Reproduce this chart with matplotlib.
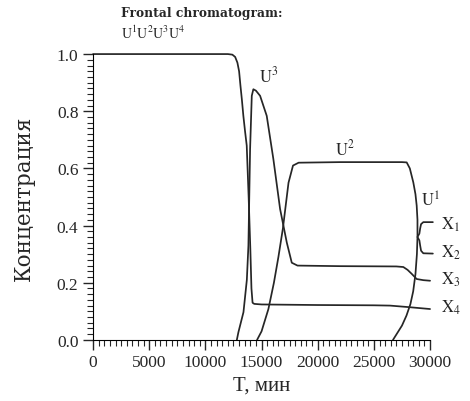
import matplotlib
matplotlib.use("Agg")
from matplotlib import pyplot as plt
from matplotlib.ticker import MultipleLocator, FormatStrFormatter

# values: T (min) and relative concentration
# first component front (starts at 1.0, ends as X4)
u4_t = [0, 12000, 12400, 12650, 12850, 13000, 13120, 13250, 13380, 13530, 13680, 13850, 14000, 14100, 14200, 14350, 15000, 20000, 25000, 26440, 28000, 30000]
u4_c = [1.0, 1.0, 0.998, 0.99, 0.97, 0.94, 0.89, 0.84, 0.784, 0.73, 0.68, 0.50, 0.32, 0.18, 0.13, 0.126, 0.124, 0.122, 0.121, 0.12, 0.115, 0.108]

# U3 band: peak then plateau, ends as X3
u3_t = [12800, 12940, 13390, 13690, 13830, 13980, 14130, 14270, 14500, 14870, 15460, 16050, 16650, 17250, 17690, 18200, 22000, 27000, 27620, 28000, 28370, 28810, 29400, 30000]
u3_c = [0.0, 0.027, 0.097, 0.21, 0.33, 0.668, 0.854, 0.877, 0.872, 0.854, 0.784, 0.633, 0.458, 0.34, 0.27, 0.26, 0.258, 0.257, 0.255, 0.245, 0.231, 0.213, 0.209, 0.207]

# U2 band: rise, plateau, then the closing front down to the U1 start
u2_t = [14600, 15000, 15610, 16100, 16500, 16900, 17400, 17800, 18300, 22000, 27500, 27920, 28200, 28510, 28700, 28810, 28880, 28880, 28830, 28700, 28500, 28250, 27900, 27500, 27100, 26700]
u2_c = [0.0, 0.03, 0.108, 0.2, 0.29, 0.39, 0.55, 0.61, 0.62, 0.622, 0.622, 0.621, 0.6, 0.551, 0.51, 0.47, 0.42, 0.36, 0.3, 0.23, 0.17, 0.125, 0.085, 0.05, 0.025, 0.0]

# brace at the X1 / X2 ends
brace_t = [30250, 29400, 29200, 29120, 29050, 28880, 29050, 29120, 29200, 29400, 30250]
brace_c = [0.412, 0.412, 0.405, 0.39, 0.372, 0.36, 0.348, 0.33, 0.312, 0.303, 0.302]

end_labels = [r"$\mathrm{X}_1$", r"$\mathrm{X}_2$", r"$\mathrm{X}_3$", r"$\mathrm{X}_4$"]
end_levels = [0.405, 0.307, 0.213, 0.115]

plt.rcParams['font.family'] = ['Liberation Serif', 'DejaVu Serif']
plt.rcParams['mathtext.fontset'] = 'stix'

fig = plt.figure(figsize=(4.7, 4.02), dpi=100)
ax = fig.add_axes([0.198, 0.152, 0.717, 0.711])

lc = '#262626'
lw = 1.25
for t, c in [(u4_t, u4_c), (u3_t, u3_c), (u2_t, u2_c), (brace_t, brace_c)]:
    ax.plot(t, c, color=lc, lw=lw, clip_on=False, solid_capstyle='round')

ax.set_xlim(0, 30000)
ax.set_ylim(0, 1.0)

for lab, lev in zip(end_labels, end_levels):
    ax.text(31000, lev, lab, fontsize=12, color=lc, va='center', ha='left', clip_on=False)

ax.text(15600, 0.925, r"$\mathrm{U}^3$", fontsize=12, color=lc, ha='center', va='center')
ax.text(22400, 0.67, r"$\mathrm{U}^2$", fontsize=12, color=lc, ha='center', va='center')
ax.text(30000, 0.49, r"$\mathrm{U}^1$", fontsize=12, color=lc, ha='center', va='center')

fig.text(121 / 470, 1 - 14 / 402, "Frontal chromatogram:", fontsize=8.8, family='DejaVu Serif',
         fontweight='bold', color=lc, ha='left', va='center')
fig.text(121 / 470, 1 - 33 / 402, r"$\mathrm{U^1U^2U^3U^4}$", fontsize=10,
         color=lc, ha='left', va='center')

ax.spines['top'].set_visible(False)
ax.spines['right'].set_visible(False)
ax.xaxis.set_major_locator(MultipleLocator(5000))
ax.xaxis.set_minor_locator(MultipleLocator(500))
ax.yaxis.set_major_locator(MultipleLocator(0.2))
ax.yaxis.set_minor_locator(MultipleLocator(0.02))
ax.yaxis.set_major_formatter(FormatStrFormatter('%.1f'))
ax.tick_params(which='major', direction='out', length=7, width=1, labelsize=12.5, colors=lc)
ax.tick_params(which='minor', direction='out', length=4, width=0.8, colors=lc)

ax.set_xlabel("T, мин", fontsize=15, color=lc, labelpad=4)
ax.set_ylabel("Концентрация", fontsize=15.5, family='DejaVu Serif', color=lc, labelpad=16)

fig.savefig("out.png", dpi=100)
